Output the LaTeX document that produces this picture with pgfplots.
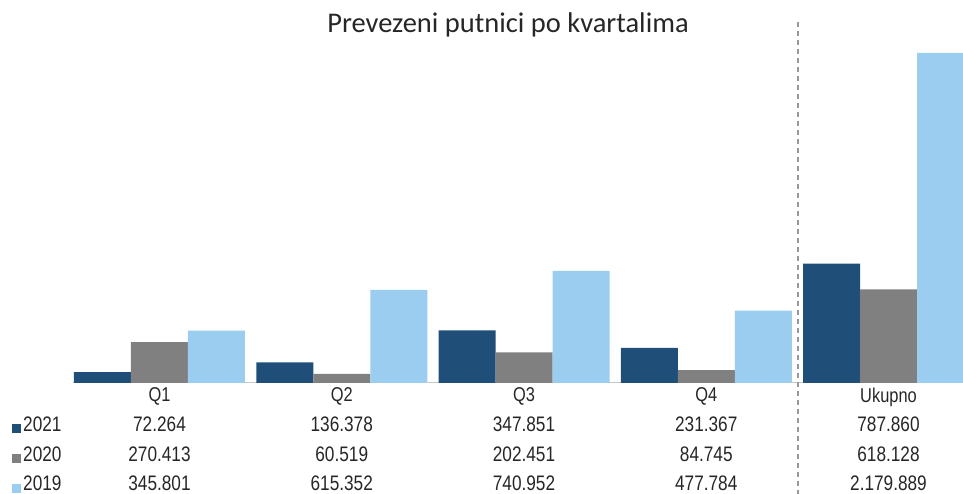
\documentclass[border=0pt]{standalone}
\usepackage{pgfplots}
\pgfplotsset{compat=1.18}
\usepackage{fontspec}
\setmainfont{Liberation Sans}[FakeStretch=0.82]
\newfontfamily\titlefont{Carlito}
\definecolor{c21}{HTML}{1F4E79}
\definecolor{c20}{HTML}{808080}
\definecolor{c19}{HTML}{9BCDF0}
\begin{document}
\begin{tikzpicture}[x=1pt,y=1pt]
\useasboundingbox (0,0) rectangle (963,494);
\begin{axis}[
  at={(73pt,111pt)}, anchor=south west,
  scale only axis, width=890pt, height=340pt,
  xmin=-0.4746, xmax=4.4088, ymin=0, ymax=2245946,
  hide y axis,
  axis x line*=bottom,
  x axis line style={draw=black!22, line width=1pt, -},
  xtick={0,1,2,3,4},
  xticklabels={Q1,Q2,Q3,Q4,Ukupno},
  major tick length=0pt,
  xticklabel style={font=\fontsize{20}{20}\selectfont, text=black!85, yshift=-1pt},
  ybar=0pt, bar width=57pt,
  clip=true,
]
\addplot[fill=c21, draw=none] coordinates {(0,72264) (1,136378) (2,347851) (3,231367) (4,787860)};
\addplot[fill=c20, draw=none] coordinates {(0,270413) (1,60519) (2,202451) (3,84745) (4,618128)};
\addplot[fill=c19, draw=none] coordinates {(0,345801) (1,615352) (2,740952) (3,477784) (4,2179889)};
\end{axis}
\node[font=\titlefont\fontsize{28.5}{28.5}\selectfont, text=black!85] at (508,469) {Prevezeni putnici po kvartalima};
\draw[black!40, line width=1.2pt, dash pattern=on 5pt off 4pt] (798,472) -- (798,0);
\begin{scope}[every node/.style={font=\fontsize{21}{21}\selectfont, text=black!85}]
  \fill[c21] (12,61) rectangle (21,70);
  \fill[c20] (12,31) rectangle (21,40);
  \fill[c19] (12,1) rectangle (21,10);
  \node[anchor=west, inner sep=0pt] at (23,70) {2021};
  \node[anchor=west, inner sep=0pt] at (23,40) {2020};
  \node[anchor=west, inner sep=0pt] at (23,11) {2019};
  \node at (159.5,70) {72.264};
  \node at (341.75,70) {136.378};
  \node at (524,70) {347.851};
  \node at (706.25,70) {231.367};
  \node at (888.5,70) {787.860};
  \node at (159.5,40) {270.413};
  \node at (341.75,40) {60.519};
  \node at (524,40) {202.451};
  \node at (706.25,40) {84.745};
  \node at (888.5,40) {618.128};
  \node at (159.5,11) {345.801};
  \node at (341.75,11) {615.352};
  \node at (524,11) {740.952};
  \node at (706.25,11) {477.784};
  \node at (888.5,11) {2.179.889};
\end{scope}
\end{tikzpicture}
\end{document}
